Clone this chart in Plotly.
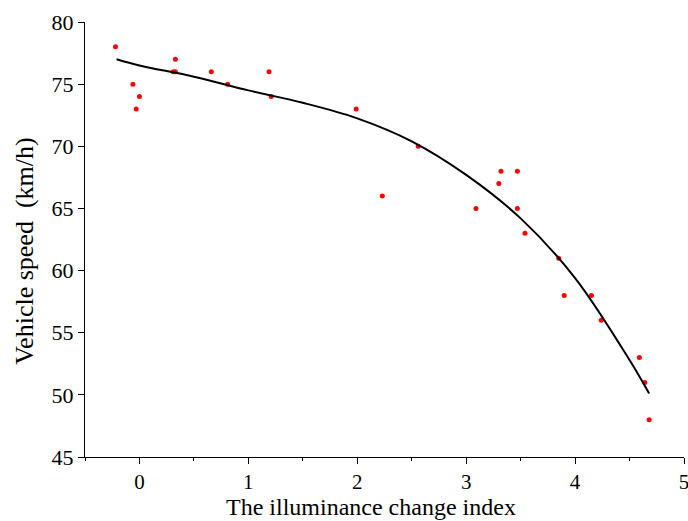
import plotly.graph_objects as go

# Scatter data: illuminance change index vs vehicle speed (km/h)
index_values = [-0.22, -0.06, 0.0, -0.03, 0.33, 0.31, 0.33, 0.66, 0.81, 1.19, 1.21,
                1.99, 2.23, 2.56, 3.09, 3.30, 3.32, 3.47, 3.47, 3.54, 3.85, 3.90,
                4.15, 4.24, 4.59, 4.64, 4.68]
speed_values = [78, 75, 74, 73, 77, 76, 76, 76, 75, 76, 74,
                73, 66, 70, 65, 67, 68, 68, 65, 63, 61, 58,
                58, 56, 53, 51, 48]

# Fitted curve
fit_x = [-0.21, 0.0, 0.5, 1.0, 1.5, 2.0, 2.5, 3.0, 3.5, 4.0, 4.5, 4.68]
fit_y = [77.0, 76.5, 75.6, 74.5, 73.5, 72.25, 70.4, 67.7, 64.2, 59.4, 52.8, 50.1]

x_ticks = [0, 1, 2, 3, 4, 5]
y_ticks = [45, 50, 55, 60, 65, 70, 75, 80]

x_title = "The illuminance change index"
y_title = "Vehicle speed  (km/h)"

FONT = "Liberation Serif"

fig = go.Figure()
fig.add_trace(go.Scatter(x=index_values, y=speed_values, mode="markers",
                         marker=dict(color="#ff0000", size=5), showlegend=False))
fig.add_trace(go.Scatter(x=fit_x, y=fit_y, mode="lines",
                         line=dict(color="black", width=2, shape="spline"),
                         showlegend=False))

fig.update_layout(
    width=688, height=521,
    margin=dict(l=85, r=4, t=22, b=64),
    paper_bgcolor="white", plot_bgcolor="white",
    font=dict(family=FONT, color="black", size=22),
    xaxis=dict(range=[-0.5, 5], tickvals=x_ticks, ticks="outside", ticklen=6,
               tickwidth=1.3, tickcolor="black", showline=True, linecolor="black",
               linewidth=1.3, showgrid=False, zeroline=False, automargin=False,
               ticklabeloverflow="allow",
               minor=dict(dtick=0.5, tick0=0, ticks="outside", ticklen=3,
                          tickwidth=1.3, tickcolor="black", showgrid=False),
               tickfont=dict(size=21)),
    yaxis=dict(range=[45, 80], tickvals=y_ticks, ticks="outside", ticklen=6,
               tickwidth=1.3, tickcolor="black", showline=True, linecolor="black",
               linewidth=1.3, showgrid=False, zeroline=False, automargin=False,
               tickfont=dict(size=22)),
    annotations=[
        dict(text=x_title, xref="paper", yref="paper", x=0.478, y=-0.114,
             xanchor="center", yanchor="middle", showarrow=False,
             font=dict(size=24), borderpad=0),
        dict(text=y_title, xref="paper", yref="paper", x=-0.1, y=0.472,
             xanchor="center", yanchor="middle", showarrow=False, textangle=-90,
             font=dict(size=26)),
    ],
)

fig.write_html("out.html", config={"displayModeBar": False},
               post_script="document.body.style.margin='0';")
